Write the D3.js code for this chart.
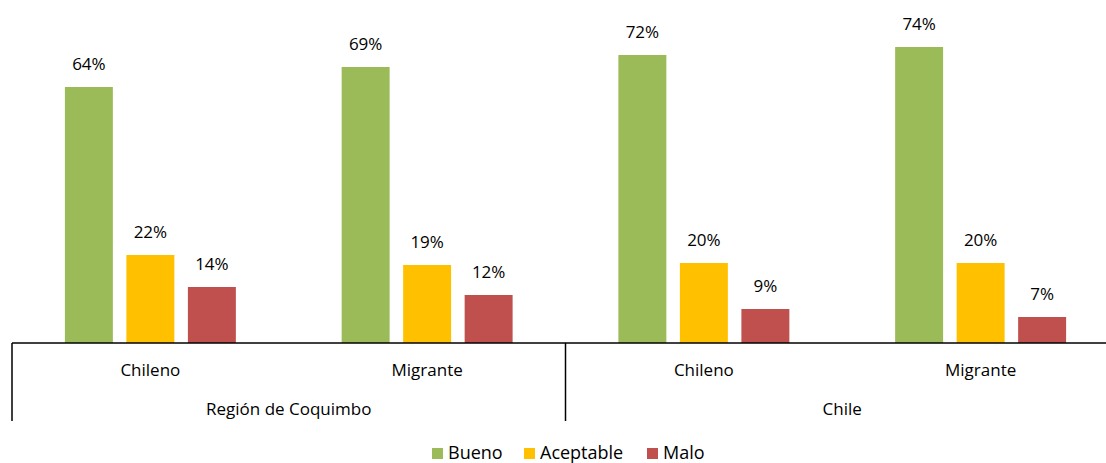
<!DOCTYPE html>
<html><head><meta charset="utf-8">
<script src="https://cdn.jsdelivr.net/npm/d3@7"></script>
<style>body{margin:0;background:#fff;overflow:hidden}svg{display:block}text{font-family:"Open Sans",sans-serif;fill:#000}</style>
</head><body>
<svg id="c" width="1106" height="463"></svg>
<script>
const categories = ["Chileno|Región de Coquimbo","Migrante|Región de Coquimbo","Chileno|Chile","Migrante|Chile"];
const subLabels = ["Chileno","Migrante","Chileno","Migrante"];
const groups = ["Región de Coquimbo","Chile"];
const series = ["Bueno","Aceptable","Malo"];
const colors = ["#9BBB59","#FFC000","#C0504D"];
const bueno = [64,69,72,74];
const aceptable = [22,19.5,20,20];
const malo = [14,12,8.5,6.5];
const labels = [["64%","69%","72%","74%"],["22%","19%","20%","20%"],["14%","12%","9%","7%"]];
const values = [bueno, aceptable, malo];

const svg = d3.select("#c");
const left = 12, right = 1119, base = 343;
const x = d3.scaleBand().domain(categories).range([left, right]);
const xi = d3.scaleBand().domain(series).range([0, x.bandwidth()]).paddingInner(0.22).paddingOuter(0.86);
const y = d3.scaleLinear().domain([0, 85.75]).range([base, 0]);

series.forEach((s, si) => {
  categories.forEach((c, ci) => {
    const v = values[si][ci];
    const bx = x(c) + xi(s);
    svg.append("rect").attr("x", bx).attr("y", y(v)).attr("width", xi.bandwidth())
      .attr("height", base - y(v)).attr("fill", colors[si]);
    svg.append("text").attr("x", bx + xi.bandwidth()/2).attr("y", y(v) - 17)
      .attr("text-anchor", "middle").attr("font-size", 17).text(labels[si][ci]);
  });
});

svg.append("line").attr("x1", left).attr("x2", right).attr("y1", base).attr("y2", base)
  .attr("stroke", "#000").attr("stroke-width", 1.5);
const gx = d3.scaleBand().domain(groups).range([left, right]);
[left, gx("Chile"), right].forEach(px => {
  svg.append("line").attr("x1", px).attr("x2", px).attr("y1", base).attr("y2", 421)
    .attr("stroke", "#000").attr("stroke-width", 1.5);
});
categories.forEach((c, ci) => {
  svg.append("text").attr("x", x(c) + x.bandwidth()/2).attr("y", 376)
    .attr("text-anchor", "middle").attr("font-size", 17).text(subLabels[ci]);
});
groups.forEach(g => {
  svg.append("text").attr("x", gx(g) + gx.bandwidth()/2).attr("y", 415)
    .attr("text-anchor", "middle").attr("font-size", 17).text(g);
});

const legX = [432, 524, 647];
series.forEach((s, si) => {
  svg.append("rect").attr("x", legX[si]).attr("y", 448).attr("width", 11).attr("height", 11).attr("fill", colors[si]);
  svg.append("text").attr("x", legX[si] + 16).attr("y", 459).attr("font-size", 18).text(s);
});
</script>
</body></html>
